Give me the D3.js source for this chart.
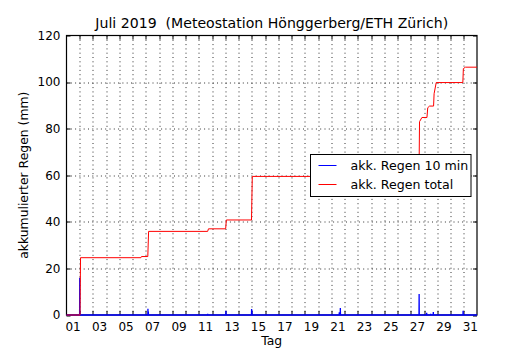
<!DOCTYPE html>
<html>
<head>
<meta charset="utf-8">
<script src="https://cdn.jsdelivr.net/npm/d3@7"></script>
<style>
  body { margin: 0; background: #fff; }
  svg text { font-family: "DejaVu Sans", sans-serif; fill: #000; white-space: pre; }
</style>
</head>
<body>
<div id="chart"></div>
<script>
// days counted from 1 July 00:00
var totalDays = [0, 1.02, 1.06, 5.62, 5.66, 6.14, 6.2, 10.66, 10.72, 12.02, 12.07, 13.97, 14.03,
                 26.62, 26.66, 26.84, 27.22, 27.28, 27.42, 27.72, 27.76, 27.92, 29.93, 29.97, 30.13, 31];
var totalMm   = [0, 0, 24.6, 24.6, 25.1, 25.1, 35.9, 35.9, 37.0, 37.0, 40.8, 40.8, 59.5,
                 59.5, 83.0, 84.8, 84.8, 89.0, 89.7, 89.7, 95.0, 99.8, 99.8, 105.8, 106.4, 106.4];

// 10-min amounts (only the rainy intervals, zeros between)
var rainDays = [0, 0.99, 1.0, 1.01, 5.61, 5.62, 5.63, 6.14, 6.15, 6.16, 6.17, 6.18, 6.19,
                10.65, 10.66, 10.67, 12.03, 12.04, 12.05, 13.97, 13.98, 13.99, 14.0, 14.01,
                20.59, 20.6, 20.61, 20.67, 20.68, 20.69, 26.62, 26.63, 26.64,
                27.19, 27.2, 27.21, 27.49, 27.5, 27.51, 27.69, 27.7, 27.71, 29.94, 29.95, 29.96, 31];
var rainMm   = [0, 0, 16.0, 0, 0, 0.3, 0, 0, 2.7, 0, 0, 1.5, 0,
                0, 0.5, 0, 0, 1.8, 0, 0, 2.6, 0, 2.0, 0,
                0, 1.2, 0, 0, 3.0, 0, 0, 9.0, 0,
                0, 1.0, 0, 0, 0.5, 0, 0, 1.3, 0, 0, 1.8, 0, 0];

var yTicks = [0, 20, 40, 60, 80, 100, 120];
var dayLabels = ["01","03","05","07","09","11","13","15","17","19","21","23","25","27","29","31"];
var seriesNames = ["akk. Regen 10 min", "akk. Regen total"];
var seriesColors = ["#0000ff", "#ff0000"];

var width = 530, height = 350;
var margin = {top: 35.5, right: 53, bottom: 35, left: 66.5};
var w = width - margin.left - margin.right;
var h = height - margin.top - margin.bottom;

var svg = d3.select("#chart").append("svg")
  .attr("width", width).attr("height", height);
var g = svg.append("g").attr("transform", "translate(" + margin.left + "," + margin.top + ")");

var x = d3.scaleLinear().domain([0, 31]).range([0, w]);
var y = d3.scaleLinear().domain([0, 120]).range([h, 0]);

// grid
var dayTicks = d3.range(1, 31);
g.append("g").selectAll("line").data(dayTicks).enter().append("line")
  .attr("x1", function(d) { return Math.round(x(d)) + 0.5; })
  .attr("x2", function(d) { return Math.round(x(d)) + 0.5; })
  .attr("y1", 0).attr("y2", h)
  .attr("stroke", "#000").attr("stroke-width", 1).attr("stroke-dasharray", "1,3.3")
  .attr("opacity", 0.8);
g.append("g").selectAll("line").data(yTicks.slice(1, -1)).enter().append("line")
  .attr("x1", 0).attr("x2", w)
  .attr("y1", function(d) { return Math.round(y(d)) + 0.5; })
  .attr("y2", function(d) { return Math.round(y(d)) + 0.5; })
  .attr("stroke", "#000").attr("stroke-width", 1).attr("stroke-dasharray", "1,3.3")
  .attr("opacity", 0.8);

// inward ticks on all four sides
var tickLen = 4;
var ticks = g.append("g").attr("stroke", "#000").attr("stroke-width", 1);
dayTicks.forEach(function(d) {
  var px = Math.round(x(d)) + 0.5;
  ticks.append("line").attr("x1", px).attr("x2", px).attr("y1", h).attr("y2", h - tickLen);
  ticks.append("line").attr("x1", px).attr("x2", px).attr("y1", 0).attr("y2", tickLen);
});
yTicks.forEach(function(d) {
  var py = Math.round(y(d)) + 0.5;
  ticks.append("line").attr("x1", 0).attr("x2", tickLen).attr("y1", py).attr("y2", py);
  ticks.append("line").attr("x1", w).attr("x2", w - tickLen).attr("y1", py).attr("y2", py);
});

// tick labels
g.append("g").selectAll("text").data(yTicks).enter().append("text")
  .attr("x", -6).attr("y", function(d) { return y(d); })
  .attr("dy", "0.36em").attr("text-anchor", "end")
  .attr("font-size", "12px")
  .text(function(d) { return d; });

g.append("g").selectAll("text").data(dayLabels).enter().append("text")
  .attr("x", function(d) { return x(+d - 0.5); })
  .attr("y", h + 16).attr("text-anchor", "middle")
  .attr("font-size", "12px")
  .text(function(d) { return d; });

// frame
g.append("rect").attr("x", 0).attr("y", 0).attr("width", w).attr("height", h)
  .attr("fill", "none").attr("stroke", "#000").attr("stroke-width", 1.2);

// lines
var rainLine = d3.line()
  .x(function(d, i) { return x(rainDays[i]); })
  .y(function(d) { return y(d); });
var totalLine = d3.line()
  .x(function(d, i) { return x(totalDays[i]); })
  .y(function(d) { return y(d); });

g.append("path").datum(rainMm)
  .attr("fill", "none").attr("stroke", seriesColors[0]).attr("stroke-width", 1.3)
  .attr("d", rainLine);
g.append("path").datum(totalMm)
  .attr("fill", "none").attr("stroke", seriesColors[1]).attr("stroke-width", 1)
  .attr("d", totalLine);

// titles
svg.append("text").attr("x", margin.left + w / 2).attr("y", 28)
  .attr("text-anchor", "middle").attr("font-size", "14.1px")
  .text("Juli 2019  (Meteostation Hönggerberg/ETH Zürich)");
svg.append("text").attr("x", margin.left + w / 2).attr("y", 345)
  .attr("text-anchor", "middle").attr("font-size", "12.4px")
  .text("Tag");
svg.append("text")
  .attr("transform", "translate(28," + (margin.top + h / 2) + ") rotate(-90)")
  .attr("text-anchor", "middle").attr("font-size", "12.4px")
  .text("akkumulierter Regen (mm)");

// legend
var legend = svg.append("g").attr("transform", "translate(310.5,154.5)");
legend.append("rect").attr("width", 160.5).attr("height", 42)
  .attr("fill", "#fff").attr("stroke", "#000").attr("stroke-width", 1);
seriesNames.forEach(function(name, i) {
  var ly = 11 + i * 19;
  legend.append("line").attr("x1", 8).attr("x2", 26).attr("y1", ly).attr("y2", ly)
    .attr("stroke", seriesColors[i]).attr("stroke-width", 1);
  legend.append("text").attr("x", 40).attr("y", ly + 4.5)
    .attr("font-size", "12.6px").text(name);
});
</script>
</body>
</html>
